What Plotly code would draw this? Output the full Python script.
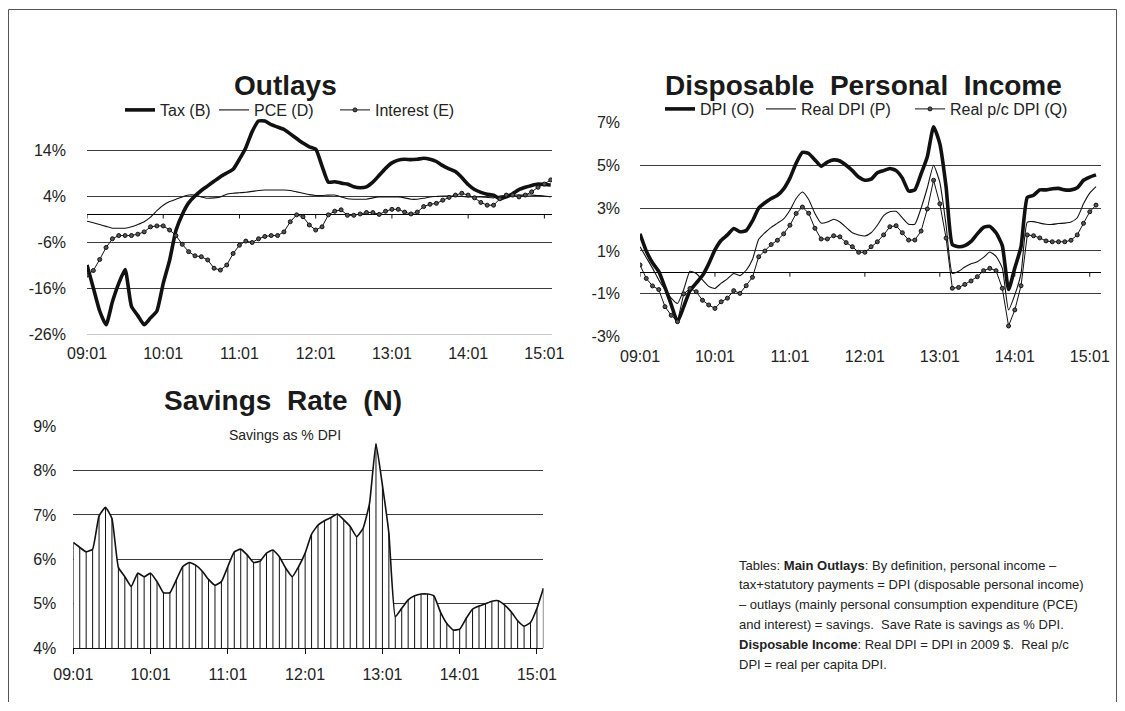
import plotly.graph_objects as go

# ---------------- data (monthly, 2009:01 .. 2015:02) ----------------
MONTHS = list(range(74))
TICK_POS = [0, 12, 24, 36, 48, 60, 72]
TICK_LABELS = ["09:01", "10:01", "11:01", "12:01", "13:01", "14:01", "15:01"]

TAX = [-11, -16, -21, -24, -19, -15, -12, -20, -22, -24, -22.5, -21,
       -15, -10, -3.5, 0, 2.5, 4, 5.2, 6.2, 7.2, 8.2, 9, 9.8,
       12, 14.5, 18, 20.3, 20.3, 19.5, 19, 18.5, 17.5, 16.5, 15.5, 14.7,
       14.2, 10.5, 7, 7.1, 6.8, 6.6, 6, 5.8, 6, 7, 8.5, 10,
       11.2, 11.8, 12, 11.9, 12, 12.2, 12, 11.5, 10.6, 9.9, 9.3, 8,
       6.5, 5.4, 4.8, 4.4, 4.2, 3.4, 3.8, 4.5, 5.4, 5.9, 6.3, 6.6,
       6.5, 6.4]
PCE = [-1.5, -1.8, -2.2, -2.6, -3.0, -3.0, -3.0, -2.7, -2.2, -1.6, -0.6, 0.8,
       2.0, 2.8, 3.3, 3.8, 4.2, 4.2, 3.8, 3.5, 3.6, 3.8, 4.4, 4.6,
       4.7, 4.8, 5.0, 5.2, 5.3, 5.3, 5.3, 5.3, 5.2, 4.9, 4.6, 4.3,
       4.1, 4.1, 4.2, 4.2, 3.8, 3.4, 3.3, 3.3, 3.3, 3.6, 3.8, 3.8,
       3.8, 3.8, 3.6, 3.3, 3.3, 3.5, 3.8, 3.9, 4.0, 4.0, 4.0, 3.9,
       3.8, 3.8, 3.8, 3.7, 3.6, 4.0, 4.1, 4.2, 4.2, 4.2, 4.2, 4.1,
       4.0, 3.8]
INTEREST = [-13.2, -12.2, -9.8, -7.2, -5.3, -4.6, -4.6, -4.6, -4.3, -3.8, -2.7, -2.5,
            -2.5, -3.4, -4.6, -6.5, -8.1, -9.0, -9.2, -9.9, -11.7, -12.1, -11.0, -8.5,
            -6.7, -5.8, -6.1, -5.3, -4.8, -4.6, -4.6, -3.8, -1.6, -0.1, -0.5, -2.3,
            -3.4, -2.7, -0.1, 0.7, 1.0, -0.2, -0.2, 0.1, 0.4, 0.4, 0.0, 0.7,
            1.1, 1.1, 0.5, 0.1, 0.5, 1.7, 2.2, 2.4, 3.1, 3.7, 4.2, 4.6,
            4.2, 3.6, 2.6, 2.0, 2.0, 3.4, 4.2, 4.2, 3.8, 4.2, 4.9, 5.9,
            6.6, 7.5]

DPI = [1.8, 1.0, 0.45, 0.05, -0.7, -1.5, -2.3, -1.6, -0.85, -0.5, -0.15, 0.4,
       1.05, 1.5, 1.75, 2.05, 1.9, 1.95, 2.4, 3.0, 3.25, 3.45, 3.6, 3.9,
       4.4, 5.1, 5.6, 5.55, 5.25, 4.95, 5.15, 5.25, 5.2, 5.0, 4.75, 4.45,
       4.3, 4.35, 4.65, 4.75, 4.85, 4.75, 4.4, 3.8, 3.85, 4.6, 5.4, 6.8,
       6.0, 4.0, 1.3, 1.2, 1.25, 1.45, 1.8, 2.1, 2.15, 1.85, 1.25, -0.8,
       0.2, 1.2, 3.5, 3.6, 3.85, 3.85, 3.9, 3.92, 3.85, 3.85, 3.95, 4.3,
       4.45, 4.55]
REAL_DPI = [1.2, 0.7, 0.2, -0.35, -0.8, -1.2, -1.45, -0.8, 0.05, -0.05, -0.35, -0.65,
            -0.75, -0.5, -0.3, -0.05, -0.15, 0.1, 0.6, 1.55, 1.85, 2.1, 2.3, 2.5,
            2.9, 3.45, 3.75, 3.4, 2.75, 2.3, 2.35, 2.48, 2.35, 2.1, 1.85, 1.75,
            1.7, 1.85, 2.2, 2.65, 2.83, 2.85, 2.55, 2.25, 2.25, 3.0, 3.95, 5.0,
            4.2, 2.2, -0.05, 0.05, 0.25, 0.4, 0.5, 0.7, 0.95, 0.75, 0.2, -1.75,
            -1.05, -0.05, 2.35, 2.37, 2.3, 2.25, 2.24, 2.28, 2.3, 2.35, 2.55, 3.2,
            3.7, 4.0]
REAL_PC_DPI = [0.35, -0.28, -0.63, -0.8, -1.6, -2.0, -2.3, -1.0, -0.75, -0.9, -1.3, -1.52,
               -1.68, -1.37, -1.2, -0.85, -0.98, -0.62, -0.23, 0.73, 1.0, 1.3, 1.5, 1.8,
               2.2, 2.75, 3.05, 2.76, 2.06, 1.56, 1.56, 1.71, 1.66, 1.39, 1.2, 0.94,
               0.94, 1.2, 1.43, 1.75, 2.13, 2.18, 1.85, 1.51, 1.51, 1.93, 2.96, 4.3,
               3.2, 1.6, -0.74, -0.7, -0.56, -0.4, -0.2, 0.08, 0.19, 0.08, -0.74, -2.5,
               -1.75, -0.62, 1.75, 1.71, 1.61, 1.47, 1.43, 1.43, 1.43, 1.5, 1.75, 2.29,
               2.83, 3.14]

SAVINGS = [6.38, 6.27, 6.17, 6.23, 6.98, 7.17, 6.92, 5.82, 5.61, 5.39, 5.69, 5.61,
           5.69, 5.5, 5.25, 5.25, 5.54, 5.84, 5.93, 5.87, 5.74, 5.55, 5.42, 5.5,
           5.84, 6.17, 6.23, 6.1, 5.93, 5.96, 6.14, 6.21, 6.06, 5.8, 5.61, 5.84,
           6.14, 6.57, 6.77, 6.87, 6.94, 7.02, 6.89, 6.74, 6.51, 6.7, 7.26, 8.6,
           7.67, 6.59, 4.71, 4.9, 5.09, 5.18, 5.22, 5.22, 5.18, 4.82, 4.56, 4.41,
           4.43, 4.67, 4.88, 4.95, 5.0, 5.06, 5.07, 4.97, 4.82, 4.62, 4.5, 4.58,
           4.9, 5.35]

OUTLAY_YTICKS = [-26, -16, -6, 4, 14]
DPI_YTICKS = [-3, -1, 1, 3, 5, 7]
SAVE_YTICKS = [4, 5, 6, 7, 8, 9]

TITLES = ["Outlays", "Disposable\u00a0 Personal\u00a0 Income", "Savings\u00a0 Rate\u00a0 (N)"]
NOTE_LINES = [
    "Tables: <b>Main Outlays</b>: By definition, personal income \u2013",
    "tax+statutory payments = DPI (disposable personal income)",
    "\u2013 outlays (mainly personal consumption expenditure (PCE)",
    "and interest) = savings.  Save Rate is savings as % DPI.",
    "<b>Disposable Income</b>: Real DPI = DPI in 2009 $.  Real p/c",
    "DPI = real per capita DPI.",
]

# ---------------- layout helpers ----------------
# The page body has an 8px margin, so the figure is sized to fit the window
# and screen positions are converted to paper fractions.
OFF = 8
W, H = 1125 - 2 * OFF, 711 - 2 * OFF - 1
FONT = "Arial, Liberation Sans, sans-serif"
GRID = "#3c3c3c"


def px(x):
    return (x - OFF) / W


def py(y):
    return 1 - (y - OFF) / H


fig = go.Figure()

thick = dict(color="#111", width=3.6, shape="spline", smoothing=0.5)
thin = dict(color="#111", width=1.1, shape="spline", smoothing=0.5)
dotted_line = dict(color="#111", width=1)
dots = dict(size=4, color="#555", line=dict(color="#111", width=1))

# ---- Outlays ----
fig.add_trace(go.Scatter(x=MONTHS, y=TAX, name="Tax (B)", mode="lines", line=thick,
                         xaxis="x", yaxis="y", legend="legend"))
fig.add_trace(go.Scatter(x=MONTHS, y=PCE, name="PCE (D)", mode="lines", line=thin,
                         xaxis="x", yaxis="y", legend="legend2"))
fig.add_trace(go.Scatter(x=MONTHS, y=INTEREST, name="Interest (E)", mode="lines+markers",
                         line=dotted_line, marker=dots, xaxis="x", yaxis="y", legend="legend3"))
fig.add_trace(go.Scatter(x=TICK_POS, y=[0] * len(TICK_POS), mode="markers",
                         marker=dict(size=1, color="rgba(0,0,0,0)"),
                         error_y=dict(type="data", symmetric=False, array=[0] * len(TICK_POS),
                                      arrayminus=[0.9] * len(TICK_POS), width=0,
                                      thickness=1, color="#111"),
                         showlegend=False, hoverinfo="skip", xaxis="x", yaxis="y"))

# ---- DPI ----
fig.add_trace(go.Scatter(x=MONTHS, y=DPI, name="DPI (O)", mode="lines", line=thick,
                         xaxis="x2", yaxis="y2", legend="legend4"))
fig.add_trace(go.Scatter(x=MONTHS, y=REAL_DPI, name="Real DPI (P)", mode="lines", line=thin,
                         xaxis="x2", yaxis="y2", legend="legend5"))
fig.add_trace(go.Scatter(x=MONTHS, y=REAL_PC_DPI, name="Real p/c DPI (Q)", mode="lines+markers",
                         line=dotted_line, marker=dots, xaxis="x2", yaxis="y2", legend="legend6"))
fig.add_trace(go.Scatter(x=TICK_POS, y=[0] * len(TICK_POS), mode="markers",
                         marker=dict(size=1, color="rgba(0,0,0,0)"),
                         error_y=dict(type="data", symmetric=False, array=[0] * len(TICK_POS),
                                      arrayminus=[0.2] * len(TICK_POS), width=0,
                                      thickness=1, color="#111"),
                         showlegend=False, hoverinfo="skip", xaxis="x2", yaxis="y2"))

# ---- Savings ----
base = SAVE_YTICKS[0]
fig.add_trace(go.Scatter(x=MONTHS, y=SAVINGS, name="Savings", mode="lines",
                         line=dict(color="#111", width=1.6, shape="spline", smoothing=0.4),
                         fill="tozeroy", fillcolor="white",
                         error_y=dict(type="data", symmetric=False, array=[0] * len(SAVINGS),
                                      arrayminus=[v - base for v in SAVINGS], width=0,
                                      thickness=1, color="#111"),
                         showlegend=False, cliponaxis=False, xaxis="x3", yaxis="y3"))

tickfont = dict(family=FONT, size=16, color="#222")


def legend_at(text_x, text_y):
    return dict(orientation="h", x=px(text_x - 40), y=py(text_y), xanchor="left", yanchor="middle",
                font=dict(family=FONT, size=16, color="#222"), bgcolor="rgba(0,0,0,0)",
                itemwidth=30, tracegroupgap=0)


fig.update_layout(
    width=W, height=H, margin=dict(l=0, r=0, t=0, b=0, pad=0), autosize=False,
    paper_bgcolor="white", plot_bgcolor="white",
    font=dict(family=FONT, color="#222"),
    xaxis=dict(domain=[px(87), px(552)], range=[0, 73.2], tickvals=TICK_POS, ticktext=TICK_LABELS,
               showgrid=False, zeroline=False, showline=True, linecolor="#c8c8c8", linewidth=1,
               ticks="", ticklabelstandoff=5, tickfont=tickfont, anchor="y", automargin=False),
    yaxis=dict(domain=[py(334), py(108.6)], range=[-26, 23], tickvals=OUTLAY_YTICKS,
               ticktext=[f"{v}%" for v in OUTLAY_YTICKS], showgrid=True, gridcolor=GRID,
               gridwidth=1, zeroline=True, zerolinecolor="#000", zerolinewidth=1,
               showline=False, ticks="", ticklabelstandoff=20, tickfont=tickfont, anchor="x",
               automargin=False),
    xaxis2=dict(domain=[px(640), px(1101)], range=[0, 73.8], tickvals=TICK_POS, ticktext=TICK_LABELS,
                showgrid=False, zeroline=False, showline=False, ticks="", ticklabelstandoff=8,
                tickfont=tickfont, anchor="y2", automargin=False),
    yaxis2=dict(domain=[py(336.7), py(122.4)], range=[-3, 7], tickvals=DPI_YTICKS,
                ticktext=[f"{v}%" for v in DPI_YTICKS], showgrid=True, gridcolor=GRID,
                gridwidth=1, zeroline=True, zerolinecolor="#000", zerolinewidth=1,
                showline=False, ticks="", ticklabelstandoff=19, tickfont=tickfont, anchor="x2",
                automargin=False),
    xaxis3=dict(domain=[px(73.3), px(543.4)], range=[0, 73], tickvals=TICK_POS, ticktext=TICK_LABELS,
                showgrid=False, zeroline=False, showline=True, linecolor="#111", linewidth=1,
                ticks="outside", ticklen=5, tickcolor="#111", ticklabelstandoff=6,
                tickfont=tickfont, anchor="y3", automargin=False),
    yaxis3=dict(domain=[py(648.3), py(426)], range=[4, 9], tickvals=SAVE_YTICKS,
                ticktext=[f"{v}%" for v in SAVE_YTICKS], showgrid=True, gridcolor=GRID,
                gridwidth=1, zeroline=False, showline=False, ticks="", ticklabelstandoff=16,
                tickfont=dict(family=FONT, size=16, color="#222"), anchor="x3", automargin=False),
    legend=legend_at(160, 110),
    legend2=legend_at(254, 110),
    legend3=legend_at(375, 110),
    legend4=legend_at(700, 109),
    legend5=legend_at(801, 109),
    legend6=legend_at(950, 109),
    showlegend=True,
)

title_font = dict(family=FONT, size=28, color="#1a1a1a")
fig.add_annotation(text=f"<b>{TITLES[0]}</b>", x=px(285), y=py(86), xref="paper", yref="paper",
                   showarrow=False, font=title_font, xanchor="center", yanchor="middle")
fig.add_annotation(text=f"<b>{TITLES[1]}</b>", x=px(863), y=py(86), xref="paper", yref="paper",
                   showarrow=False, font=title_font, xanchor="center", yanchor="middle")
fig.add_annotation(text=f"<b>{TITLES[2]}</b>", x=px(283), y=py(400), xref="paper", yref="paper",
                   showarrow=False, font=title_font, xanchor="center", yanchor="middle")
fig.add_annotation(text="Savings as % DPI", x=px(285), y=py(435), xref="paper", yref="paper",
                   showarrow=False, font=dict(family=FONT, size=14, color="#222"),
                   xanchor="center", yanchor="middle")
for i, line in enumerate(NOTE_LINES):
    fig.add_annotation(text=line, x=px(737), y=py(565 + 19.8 * i), xref="paper", yref="paper",
                       showarrow=False, align="left", xanchor="left", yanchor="middle",
                       font=dict(family=FONT, size=13, color="#222"))

# outer frame
fig.add_shape(type="rect", xref="paper", yref="paper", x0=px(8.5), y0=-0.01, x1=px(1116.5), y1=py(9.5),
              line=dict(color="#555", width=1), fillcolor="rgba(0,0,0,0)", layer="above")

fig.write_html("out.html")
